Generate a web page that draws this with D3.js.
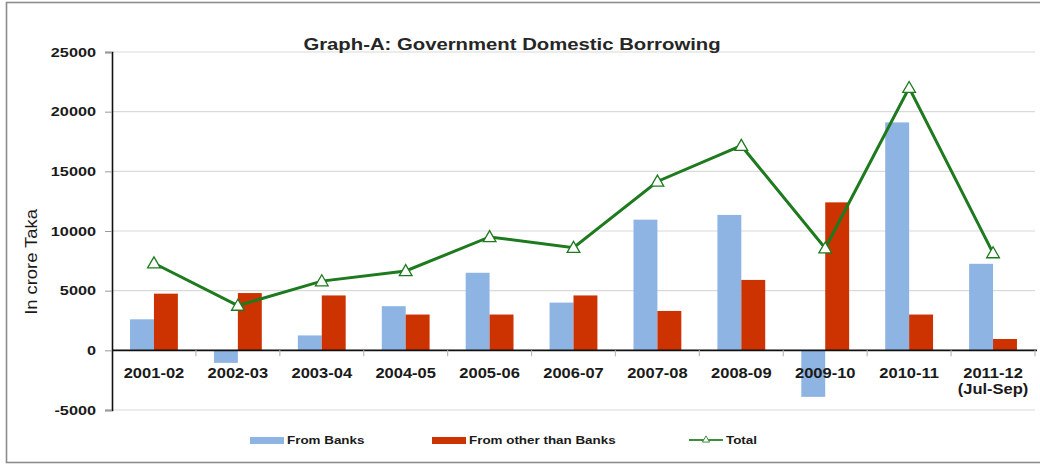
<!DOCTYPE html>
<html>
<head>
<meta charset="utf-8">
<script src="https://cdn.jsdelivr.net/npm/d3@7"></script>
<style>
  body { margin: 0; background: #fff; }
  text { font-family: "Liberation Sans", Arial, sans-serif; fill: #1a1a1a; }
</style>
</head>
<body>
<svg width="1040" height="465"></svg>
<script>
const years = ["2001-02", "2002-03", "2003-04", "2004-05", "2005-06", "2006-07",
    "2007-08", "2008-09", "2009-10", "2010-11", "2011-12\n(Jul-Sep)"];
const fromBanks = [2600, -1050, 1250, 3700, 6500, 4000, 10950, 11350, -3900, 19100, 7250];
const fromOthers = [4750, 4800, 4600, 3000, 3000, 4600, 3300, 5900, 12400, 3000, 950];
const total = [7300, 3750, 5800, 6650, 9500, 8600, 14150, 17150, 8550, 22000, 8150];
const yTicks = [-5000, 0, 5000, 10000, 15000, 20000, 25000];
const seriesNames = ["From Banks", "From other than Banks", "Total"];
const colors = ["#8eb4e3", "#cc3300", "#1e7a1e"];

const SX = 1.25; // text in the picture is stretched sideways

function stretch(sel, sx) {
    sel.each(function() {
        const t = d3.select(this)
        const x = +t.attr("x") || 0, y = +t.attr("y") || 0
        t.attr("x", 0).attr("y", 0)
            .attr("transform", `translate(${x},${y}) scale(${sx},1)`)
    })
}

const svg = d3.select("svg")

// frame
svg.append("rect")
    .attr("x", 6.5).attr("y", 2.5)
    .attr("width", 1040).attr("height", 460)
    .attr("fill", "none").attr("stroke", "#8c8c8c").attr("stroke-width", 1.6)

const left = 112, right = 1035
const y = d3.scaleLinear().domain([-5000, 25000]).range([410, 52])
const x = d3.scaleBand().domain(years).range([left, right])
    .paddingInner(0.43).paddingOuter(0.215)
const xs = d3.scaleBand().domain([0, 1]).range([0, x.bandwidth()])

// grid
svg.append("g")
    .selectAll("line")
    .data(yTicks)
    .enter()
    .append("line")
    .attr("x1", left).attr("x2", right)
    .attr("y1", d => y(d)).attr("y2", d => y(d))
    .attr("stroke", "#dadada").attr("stroke-width", 1.2)

// y axis
const yAxis = d3.axisLeft(y).tickValues(yTicks).tickSize(7).tickPadding(9)
    .tickFormat(d => String(d))
const yG = svg.append("g")
    .attr("transform", `translate(${left},0)`)
    .call(yAxis)
yG.select(".domain").attr("stroke", "#111").attr("stroke-width", 1.6)
yG.selectAll(".tick line").attr("stroke", "#999")
yG.selectAll(".tick text")
    .style("font-size", "13px").style("font-weight", "bold")
stretch(yG.selectAll(".tick text"), SX)

// bars
const bars = svg.append("g")
years.forEach((yr, i) => {
    [fromBanks[i], fromOthers[i]].forEach((v, k) => {
        bars.append("rect")
            .attr("x", x(yr) + xs(k))
            .attr("width", xs.bandwidth())
            .attr("y", y(Math.max(0, v)))
            .attr("height", Math.abs(y(v) - y(0)))
            .attr("fill", colors[k])
    })
})

// zero line + category ticks
svg.append("line")
    .attr("x1", left).attr("x2", right + 2)
    .attr("y1", y(0)).attr("y2", y(0))
    .attr("stroke", "#111").attr("stroke-width", 1.6)
svg.append("g")
    .selectAll("line")
    .data(d3.range(1, years.length + 1))
    .enter()
    .append("line")
    .attr("x1", d => left + d * x.step()).attr("x2", d => left + d * x.step())
    .attr("y1", y(0)).attr("y2", y(0) + 6)
    .attr("stroke", "#bbb").attr("stroke-width", 1.2)

// x labels
const xl = svg.append("g")
    .selectAll("text")
    .data(years)
    .enter()
    .append("text")
    .attr("text-anchor", "middle")
    .style("font-size", "14px").style("font-weight", "bold")
    .attr("transform", d => `translate(${x(d) + x.bandwidth() / 2},${y(0) + 28}) scale(1.18,1)`)
xl.each(function(d) {
    d.split("\n").forEach((s, j) => {
        d3.select(this).append("tspan").attr("x", 0).attr("dy", j ? 16 : 0).text(s)
    })
})

// total line
const cx = d => x(d) + x.bandwidth() / 2
const line = d3.line().x((d, i) => cx(years[i])).y(d => y(d))
svg.append("path")
    .datum(total)
    .attr("d", line)
    .attr("fill", "none")
    .attr("stroke", colors[2]).attr("stroke-width", 3)
svg.append("g")
    .selectAll("path")
    .data(total)
    .enter()
    .append("path")
    .attr("d", d3.symbol(d3.symbolTriangle, 70))
    .attr("transform", (d, i) => `translate(${cx(years[i])},${y(d) + 1})`)
    .attr("fill", "#fff").attr("stroke", colors[2]).attr("stroke-width", 1.3)

// title
svg.append("text")
    .attr("transform", "translate(512,50) scale(1.27,1)")
    .attr("text-anchor", "middle")
    .style("font-size", "16px").style("font-weight", "bold")
    .style("fill", "#262626")
    .text("Graph-A: Government Domestic Borrowing")

// y label
svg.append("text")
    .attr("transform", "translate(37,262) rotate(-90) scale(1.08,1)")
    .attr("text-anchor", "middle")
    .style("font-size", "17px")
    .text("In crore Taka")

// legend
const legX = [250, 432, 689]
const lg = svg.append("g")
seriesNames.forEach((name, k) => {
    if (k < 2) {
        lg.append("rect")
            .attr("x", legX[k]).attr("y", 437)
            .attr("width", 34).attr("height", 7)
            .attr("fill", colors[k])
    } else {
        lg.append("line")
            .attr("x1", legX[k]).attr("x2", legX[k] + 34)
            .attr("y1", 440).attr("y2", 440)
            .attr("stroke", "#3c8f3c").attr("stroke-width", 2)
        lg.append("path")
            .attr("d", d3.symbol(d3.symbolTriangle, 22))
            .attr("transform", `translate(${legX[k] + 17},440)`)
            .attr("fill", "#fff").attr("stroke", "#3c8f3c").attr("stroke-width", 1)
    }
    lg.append("text")
        .attr("transform", `translate(${legX[k] + 37},444) scale(1.22,1)`)
        .style("font-size", "11px").style("font-weight", "bold")
        .text(name)
})
</script>
</body>
</html>
